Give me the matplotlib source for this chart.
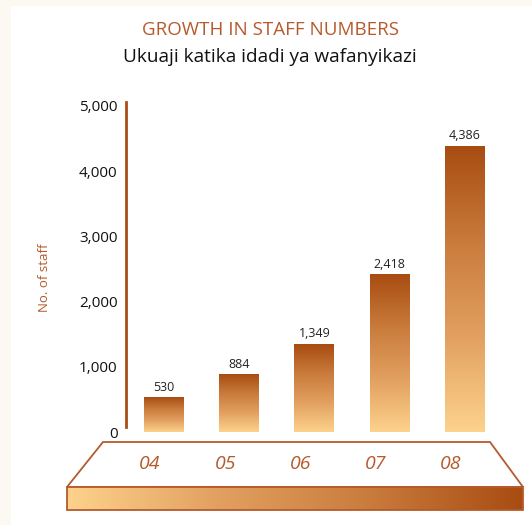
import numpy as np
import matplotlib
matplotlib.use("Agg")
import matplotlib.pyplot as plt
from matplotlib.colors import LinearSegmentedColormap
from matplotlib.patches import Polygon, Rectangle
from matplotlib.transforms import blended_transform_factory, ScaledTranslation

years = ["04", "05", "06", "07", "08"]
staff = [530, 884, 1349, 2418, 4386]
yticks = [0, 1000, 2000, 3000, 4000, 5000]

BROWN = "#A84E14"
LINE = "#B55A2C"
cmap = LinearSegmentedColormap.from_list("copper", ["#FDD28C", "#E2A060", "#C97B3C", "#A84C12"])

W, H = 532, 525
fig = plt.figure(figsize=(W / 100, H / 100), dpi=100)
fig.patch.set_facecolor("white")
plt.rcParams["font.family"] = ["Open Sans", "DejaVu Sans"]

# background overlay in pixel coordinates
bg = fig.add_axes([0, 0, 1, 1], zorder=0)
bg.set_xlim(0, W)
bg.set_ylim(H, 0)
bg.axis("off")
bg.add_patch(Rectangle((0, 0), 11, H, color="#FBF9F2", lw=0))
bg.add_patch(Rectangle((0, 0), W, 6, color="#FBF9F2", lw=0))

# platform
bg.add_patch(Polygon([(103, 442), (490, 442), (523, 487), (67, 487)], closed=True,
                     facecolor="white", edgecolor=LINE, lw=1.3))
grad = np.linspace(0, 1, 256).reshape(1, -1)
bg.imshow(grad, extent=[67, 523, 510, 487], cmap=cmap, aspect="auto", zorder=2)
bg.add_patch(Rectangle((67, 487), 456, 23, facecolor="none", edgecolor=LINE, lw=1.3, zorder=3))
bg.set_xlim(0, W)
bg.set_ylim(H, 0)

fig.text(270 / W, 1 - 30 / H, "GROWTH IN STAFF NUMBERS", ha="center", va="center",
         fontsize=13.5, color=LINE)
fig.text(270 / W, 1 - 57 / H, "Ukuaji katika idadi ya wafanyikazi", ha="center", va="center",
         fontsize=13.7, color="#111111")

# main chart
base_px, top_px, left_px, right_px = 432, 100, 126, 510
ax = fig.add_axes([left_px / W, (H - base_px) / H, (right_px - left_px) / W, (base_px - top_px) / H],
                  zorder=1)
ax.patch.set_alpha(0)
ymax = 5000 * (base_px - top_px) / 326
x = np.arange(len(years))
bw = 0.53
vgrad = np.linspace(1, 0, 256).reshape(-1, 1)
for xi, v in zip(x, staff):
    ax.imshow(vgrad, extent=[xi - bw / 2, xi + bw / 2, 0, v], cmap=cmap, aspect="auto")
    ax.text(xi, v + 55, f"{v:,}", ha="center", va="bottom", fontsize=9, color="#222222")
ax.set_xlim(-0.505, 4.6)
ax.set_ylim(0, ymax)

ax.set_yticks(yticks)
ax.set_yticklabels([f"{t:,}" for t in yticks], fontsize=11, color="#111111")
ax.tick_params(axis="y", length=0, pad=6)
ax.set_xticks([])
for s in ["top", "right", "bottom"]:
    ax.spines[s].set_visible(False)
ax.spines["left"].set_color(BROWN)
ax.spines["left"].set_linewidth(2)
ax.spines["left"].set_bounds(80, ymax - 30)
ax.set_ylabel("No. of staff", fontsize=9.5, color=LINE)
ax.yaxis.set_label_coords(-0.195, 0.464)

# year labels on platform
trans = blended_transform_factory(ax.transData, bg.transData) + ScaledTranslation(-0.14, 0, fig.dpi_scale_trans)
for xi, yr in zip(x, years):
    ax.text(xi, 464, yr, transform=trans, ha="center", va="center", fontsize=14,
            style="italic", color=LINE, clip_on=False)

fig.savefig("out.png", dpi=100)
